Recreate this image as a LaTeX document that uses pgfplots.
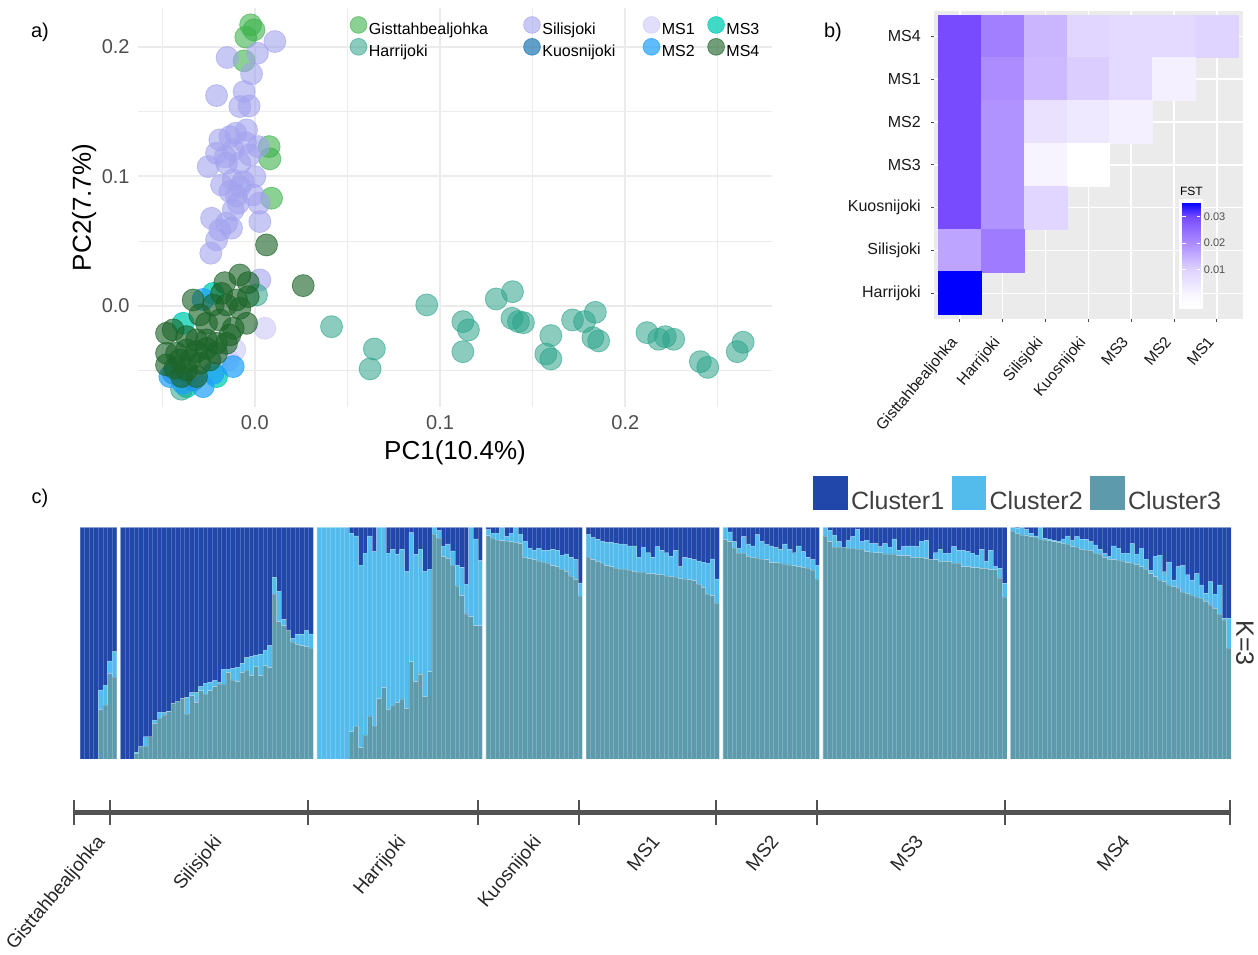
\documentclass[border=0pt]{standalone}
\usepackage{fontspec}
\setmainfont{Liberation Sans}
\usepackage{pgfplots}
\usepackage{pgfplotstable}
\pgfplotsset{compat=1.18}

\definecolor{gisC}{RGB}{60,178,75}
\definecolor{harC}{RGB}{43,163,138}
\definecolor{silC}{RGB}{163,163,238}
\definecolor{kuoC}{RGB}{31,120,180}
\definecolor{msaC}{RGB}{205,200,247}
\definecolor{msbC}{RGB}{30,160,250}
\definecolor{mscC}{RGB}{0,205,180}
\definecolor{msdC}{RGB}{27,100,40}
\definecolor{clA}{RGB}{33,71,170}
\definecolor{clB}{RGB}{83,188,236}
\definecolor{clC}{RGB}{93,154,171}
\definecolor{txtgrey}{RGB}{77,77,77}
\definecolor{gridgrey}{RGB}{235,235,235}

% ---------------- panel a data ----------------
\pgfplotstableread{
x y
-0.0023 0.2170
-0.0005 0.2131
-0.0049 0.2075
-0.0058 0.1892
0.0077 0.1230
0.0081 0.1135
0.0090 0.0832
}\gisdata
\pgfplotstableread{
x y
0.0108 0.2041
-0.0150 0.1918
0.0014 0.1951
-0.0018 0.1792
-0.0207 0.1624
-0.0058 0.1655
-0.0081 0.1539
-0.0031 0.1544
-0.0045 0.1359
-0.0103 0.1333
-0.0189 0.1282
-0.0135 0.1307
0.0018 0.1230
-0.0207 0.1179
-0.0117 0.1205
-0.0027 0.1166
-0.0252 0.1076
-0.0153 0.1102
-0.0081 0.1102
0.0000 0.0998
-0.0117 0.0973
-0.0180 0.0934
-0.0081 0.0921
-0.0135 0.0883
-0.0009 0.0857
0.0023 0.0793
-0.0090 0.0793
-0.0117 0.0741
-0.0234 0.0677
-0.0153 0.0639
-0.0189 0.0587
0.0027 0.0651
-0.0207 0.0510
-0.0238 0.0407
-0.0126 0.0600
0.0027 0.0201
-0.0063 0.0960
-0.0100 0.0850
-0.0160 0.1150
-0.0050 0.1260
}\sildata
\pgfplotstableread{
x y
0.0054 -0.0172
-0.0108 -0.0339
-0.0144 -0.0417
-0.0207 -0.0468
}\msadata
\pgfplotstableread{
x y
-0.0225 0.0097
-0.0387 -0.0134
-0.0207 -0.0545
-0.0369 -0.0623
}\mscdata
\pgfplotstableread{
x y
0.0928 0.0008
0.1123 -0.0121
0.1153 -0.0185
0.1123 -0.0353
0.1303 0.0054
0.1391 0.0110
0.1388 -0.0095
0.1423 -0.0121
0.1450 -0.0129
0.1598 -0.0229
0.1571 -0.0371
0.1598 -0.0409
0.1715 -0.0108
0.1780 -0.0121
0.1838 -0.0049
0.1825 -0.0245
0.1856 -0.0270
0.2117 -0.0206
0.2180 -0.0257
0.2216 -0.0237
0.2261 -0.0257
0.2405 -0.0430
0.2445 -0.0474
0.2604 -0.0353
0.2636 -0.0280
0.0414 -0.0160
0.0645 -0.0332
0.0622 -0.0486
-0.0396 -0.0643
0.0009 0.0085
}\hardata
\pgfplotstableread{
x y
-0.0441 -0.0519
-0.0333 -0.0570
}\kuodata
\pgfplotstableread{
x y
-0.0459 -0.0545
-0.0279 -0.0623
-0.0117 -0.0468
-0.0225 -0.0519
-0.0387 -0.0597
-0.0280 0.0050
}\msbdata
\pgfplotstableread{
x y
-0.0081 0.0239
-0.0036 0.0180
-0.0162 0.0180
-0.0333 0.0046
-0.0099 0.0046
-0.0180 0.0097
-0.0036 0.0072
-0.0297 -0.0069
-0.0225 0.0008
-0.0153 0.0008
-0.0081 -0.0018
-0.0045 -0.0134
-0.0117 -0.0172
-0.0261 -0.0134
-0.0189 -0.0108
-0.0441 -0.0185
-0.0477 -0.0211
-0.0369 -0.0237
-0.0315 -0.0262
-0.0261 -0.0262
-0.0207 -0.0288
-0.0153 -0.0288
-0.0135 -0.0224
-0.0477 -0.0365
-0.0423 -0.0365
-0.0369 -0.0339
-0.0315 -0.0352
-0.0261 -0.0327
-0.0207 -0.0365
-0.0405 -0.0417
-0.0351 -0.0417
-0.0477 -0.0455
-0.0432 -0.0481
-0.0369 -0.0494
-0.0315 -0.0545
-0.0396 -0.0545
-0.0297 -0.0443
-0.0243 -0.0417
0.0063 0.0471
0.0261 0.0157
}\msddata

% ---------------- panel b data ----------------
\pgfplotstableread{
x y v
1 7 0.0300
2 7 0.0220
3 7 0.0140
4 7 0.0090
5 7 0.0080
6 7 0.0080
7 7 0.0095
1 6 0.0300
2 6 0.0200
3 6 0.0135
4 6 0.0105
5 6 0.0080
6 6 0.0020
1 5 0.0300
2 5 0.0190
3 5 0.0060
4 5 0.0040
5 5 0.0020
1 4 0.0300
2 4 0.0190
3 4 0.0010
4 4 -0.0048
1 3 0.0300
2 3 0.0190
3 3 0.0090
1 2 0.0165
2 2 0.0225
1 1 0.0355
}\fstdata

% ---------------- panel c data ----------------
\pgfplotstableread{
g c3 t
0 0 0
0 0 0
0 0 0
0 0 0
0 0.214 0.298
0 0.232 0.319
0 0.370 0.423
0 0.353 0.463
1 0 0
1 0 0
1 0 0
1 0.024 0.030
1 0.053 0.053
1 0.056 0.096
1 0.096 0.096
1 0.154 0.168
1 0.176 0.200
1 0.190 0.200
1 0.204 0.207
1 0.240 0.240
1 0.250 0.250
1 0.262 0.262
1 0.194 0.266
1 0.273 0.286
1 0.243 0.286
1 0.295 0.312
1 0.280 0.327
1 0.295 0.331
1 0.312 0.338
1 0.324 0.330
1 0.324 0.388
1 0.373 0.388
1 0.341 0.391
1 0.334 0.396
1 0.373 0.413
1 0.384 0.437
1 0.360 0.442
1 0.400 0.449
1 0.360 0.452
1 0.403 0.470
1 0.394 0.489
1 0.712 0.784
1 0.593 0.722
1 0.576 0.603
1 0.557 0.557
1 0.505 0.520
1 0.495 0.538
1 0.489 0.538
1 0.485 0.554
1 0.478 0.540
2 0 1
2 0 1
2 0 1
2 0 1
2 0 1
2 0 1
2 0 1
2 0.118 0.974
2 0.142 0.963
2 0.049 0.837
2 0.104 0.888
2 0.186 0.963
2 0.142 0.895
2 0.260 1
2 0.308 1
2 0.214 0.888
2 0.233 0.905
2 0.243 0.883
2 0.259 0.905
2 0.217 0.809
2 0.420 0.977
2 0.334 0.883
2 0.365 0.906
2 0.269 0.809
2 0.377 0.819
2 0.971 1
2 0.953 0.986
2 0.873 0.919
2 0.866 0.928
2 0.837 0.898
2 0.747 0.837
2 0.705 0.827
2 0.626 0.755
2 0.614 1
2 0.576 0.950
2 0.576 0.856
3 0.964 0.990
3 0.953 0.975
3 0.945 0.975
3 0.942 1
3 0.940 0.960
3 0.938 0.975
3 0.935 1
3 0.930 0.970
3 0.870 0.940
3 0.865 0.910
3 0.860 0.900
3 0.855 0.910
3 0.850 0.900
3 0.845 0.900
3 0.835 0.905
3 0.830 0.900
3 0.820 0.880
3 0.810 0.885
3 0.790 0.870
3 0.775 0.860
3 0.704 0.760
4 0.871 0.970
4 0.860 0.955
4 0.853 0.948
4 0.845 0.940
4 0.835 0.935
4 0.830 0.935
4 0.825 0.930
4 0.820 0.928
4 0.820 0.925
4 0.815 0.920
4 0.810 0.920
4 0.806 0.871
4 0.806 0.914
4 0.800 0.890
4 0.800 0.870
4 0.797 0.917
4 0.795 0.900
4 0.790 0.890
4 0.788 0.875
4 0.785 0.900
4 0.780 0.830
4 0.777 0.870
4 0.774 0.866
4 0.770 0.860
4 0.755 0.855
4 0.741 0.850
4 0.712 0.845
4 0.705 0.864
4 0.674 0.777
5 0.948 1
5 0.938 0.980
5 0.910 0.938
5 0.888 0.910
5 0.888 0.960
5 0.875 0.928
5 0.870 0.920
5 0.868 0.968
5 0.863 0.938
5 0.860 0.925
5 0.848 0.920
5 0.848 0.912
5 0.845 0.905
5 0.842 0.928
5 0.838 0.905
5 0.835 0.890
5 0.830 0.920
5 0.827 0.895
5 0.825 0.870
5 0.815 0.860
5 0.777 0.835
6 0.963 1
6 0.938 0.988
6 0.914 0.966
6 0.914 0.938
6 0.914 0.914
6 0.910 0.942
6 0.910 0.960
6 0.906 0.991
6 0.906 0.938
6 0.895 0.945
6 0.893 0.930
6 0.890 0.930
6 0.890 0.917
6 0.885 0.930
6 0.885 0.914
6 0.885 0.950
6 0.878 0.900
6 0.878 0.917
6 0.878 0.920
6 0.870 0.920
6 0.870 0.917
6 0.870 0.940
6 0.865 0.944
6 0.860 0.860
6 0.860 0.890
6 0.853 0.905
6 0.853 0.888
6 0.853 0.888
6 0.845 0.917
6 0.845 0.900
6 0.830 0.900
6 0.830 0.895
6 0.826 0.888
6 0.826 0.880
6 0.823 0.905
6 0.823 0.853
6 0.817 0.900
6 0.817 0.830
6 0.782 0.823
6 0.700 0.758
7 0.984 1
7 0.974 0.995
7 0.967 1
7 0.965 0.990
7 0.960 0.975
7 0.958 0.963
7 0.950 1
7 0.945 0.952
7 0.942 0.950
7 0.938 0.945
7 0.935 0.940
7 0.931 0.950
7 0.928 0.963
7 0.917 0.945
7 0.915 0.960
7 0.905 0.948
7 0.902 0.948
7 0.900 0.938
7 0.888 0.924
7 0.885 0.905
7 0.870 0.886
7 0.862 0.873
7 0.860 0.920
7 0.858 0.910
7 0.855 0.888
7 0.848 0.888
7 0.845 0.929
7 0.840 0.884
7 0.830 0.910
7 0.820 0.863
7 0.800 0.815
7 0.787 0.876
7 0.773 0.880
7 0.765 0.808
7 0.751 0.851
7 0.745 0.773
7 0.737 0.830
7 0.720 0.835
7 0.715 0.795
7 0.708 0.773
7 0.700 0.800
7 0.694 0.751
7 0.680 0.715
7 0.665 0.765
7 0.650 0.712
7 0.625 0.751
7 0.600 0.607
7 0.478 0.607
}\admix

\begin{document}
\begin{tikzpicture}
\path[use as bounding box] (0,0) rectangle (629pt,477pt);

% ================= panel a =================
\begin{axis}[
  at={(69pt,273.5pt)}, anchor=south west, scale only axis,
  width=317pt, height=199.5pt,
  xmin=-0.0631, xmax=0.2792, ymin=-0.078, ymax=0.230,
  axis line style={draw=none}, tick style={draw=none},
  xtick={0,0.1,0.2}, xticklabels={0.0,0.1,0.2},
  ytick={0,0.1,0.2}, yticklabels={0.0,0.1,0.2},
  minor xtick={-0.05,0.05,0.15,0.25}, minor ytick={-0.05,0.05,0.15},
  grid=both,
  major grid style={gridgrey, line width=1pt},
  minor grid style={gridgrey, line width=0.5pt},
  xticklabel style={font=\fontsize{10}{12}\selectfont, text=txtgrey, inner sep=0pt, anchor=north, yshift=-4pt},
  yticklabel style={font=\fontsize{10}{12}\selectfont, text=txtgrey, inner sep=0pt, anchor=east, xshift=-4pt},
  xlabel={PC1(10.4\%)}, ylabel={PC2(7.7\%)},
  xlabel style={font=\fontsize{13}{15}\selectfont, at={(axis description cs:0.5,-0.0827)}, anchor=north, inner sep=0pt},
  ylabel style={font=\fontsize{13}{15}\selectfont, at={(axis description cs:-0.0653,0.5)}, anchor=south, inner sep=0pt},
  legend columns=4, legend cell align=left,
  legend style={draw=none, fill=none, at={(axis description cs:0.3339,0.9796)}, anchor=north west,
    font=\fontsize{8}{9.6}\selectfont, inner sep=0pt, nodes={inner xsep=1pt, inner ysep=0pt}, row sep=0.3pt,
    /tikz/every even column/.append style={column sep=4pt}},
  legend image code/.code={\draw[#1, mark size=4.2pt] plot coordinates {(4.2pt,2.8pt)};},
  clip=false,
]
\addplot[only marks, mark=*, mark size=5.5pt, mark options={fill=gisC, draw=gisC, fill opacity=0.6, draw opacity=0.6}] table[x=x,y=y] \gisdata;
\addlegendentry{\makebox[72.35pt][l]{Gisttahbealjohka}}
\addplot[only marks, mark=*, mark size=5.5pt, mark options={fill=silC, draw=silC, fill opacity=0.6, draw opacity=0.6}] table[x=x,y=y] \sildata;
\addlegendentry{\makebox[45.35pt][l]{Silisjoki}}
\addplot[only marks, mark=*, mark size=5.5pt, mark options={fill=msaC, draw=msaC, fill opacity=0.6, draw opacity=0.6}] table[x=x,y=y] \msadata;
\addlegendentry{\makebox[17.9pt][l]{MS1}}
\addplot[only marks, mark=*, mark size=5.5pt, mark options={fill=mscC, draw=mscC, fill opacity=0.75, draw opacity=0.75}] table[x=x,y=y] \mscdata;
\addlegendentry{MS3}
\addplot[only marks, mark=*, mark size=5.5pt, mark options={fill=harC, draw=harC, fill opacity=0.55, draw opacity=0.6}] table[x=x,y=y] \hardata;
\addlegendentry{\makebox[72.35pt][l]{Harrijoki}}
\addplot[only marks, mark=*, mark size=5.5pt, mark options={fill=kuoC, draw=kuoC, fill opacity=0.7, draw opacity=0.7}] table[x=x,y=y] \kuodata;
\addlegendentry{\makebox[45.35pt][l]{Kuosnijoki}}
\addplot[only marks, mark=*, mark size=5.5pt, mark options={fill=msbC, draw=msbC, fill opacity=0.7, draw opacity=0.7}] table[x=x,y=y] \msbdata;
\addlegendentry{\makebox[17.9pt][l]{MS2}}
\addplot[only marks, mark=*, mark size=5.5pt, mark options={fill=msdC, draw=msdC, fill opacity=0.62, draw opacity=0.65}] table[x=x,y=y] \msddata;
\addlegendentry{MS4}
\end{axis}

% ================= panel b =================
\begin{axis}[
  name=pb,
  at={(467pt,317.5pt)}, anchor=south west, scale only axis,
  width=154.35pt, height=154.15pt,
  xmin=0.4, xmax=7.6, ymin=0.4, ymax=7.6,
  axis background/.style={fill=gridgrey},
  axis line style={draw=none},
  xtick={1,2,3,4,5,6,7}, ytick={1,2,3,4,5,6,7},
  xticklabels={Gisttahbealjohka,Harrijoki,Silisjoki,Kuosnijoki,MS3,MS2,MS1},
  yticklabels={Harrijoki,Silisjoki,Kuosnijoki,MS3,MS2,MS1,MS4},
  grid=major, major grid style={white, line width=0.8pt},
  tick align=outside, major tick length=1.4pt, tick style={black!70, line width=0.5pt},
  xtick pos=bottom, ytick pos=left,
  xticklabel style={xshift=-5.3pt, yshift=-6.5pt, rotate=50, anchor=north east, font=\fontsize{7.8}{9.4}\selectfont, text=black!90, inner sep=0pt},
  yticklabel style={anchor=east, font=\fontsize{8}{9.6}\selectfont, text=black!90, inner sep=0pt, xshift=-5pt},
  colormap={fstmap}{rgb255(0pt)=(255,255,255); rgb255(4.8pt)=(250,248,255); rgb255(14.8pt)=(222,210,255); rgb255(24.8pt)=(172,140,255); rgb255(34.8pt)=(120,75,255); rgb255(40.3pt)=(0,0,255)},
  point meta min=-0.0048, point meta max=0.0355,
  colorbar,
  colorbar style={
    at={(parent axis.south west)}, anchor=south west, xshift=115.7pt, yshift=5.35pt,
    scale only axis, width=9pt, height=53pt,
    scaled y ticks=false,
    ytick={0.01,0.02,0.03}, yticklabels={0.01,0.02,0.03},
    yticklabel pos=right, ytick pos=both,
    yticklabel style={font=\fontsize{5.5}{6}\selectfont, text=txtgrey, inner sep=0pt, xshift=1.5pt},
    axis line style={draw=none},
    tick align=inside, major tick length=1.8pt, tick style={white, line width=0.4pt},
    title={FST}, title style={font=\fontsize{6}{7}\selectfont, inner sep=0pt, at={(0.5,1)}, anchor=south, yshift=-2.9pt},
  },
]
\fill[white] (axis cs:6.121,0.624) rectangle (axis cs:6.681,3.194);
\addplot[scatter, only marks, mark=square*, mark size=10.72pt, scatter src=explicit,
  scatter/use mapped color={draw=mapped color, fill=mapped color}] table[x=x,y=y,meta=v] \fstdata;
\end{axis}

% ================= panel c =================
\begin{axis}[
  at={(40pt,97.5pt)}, anchor=south west, scale only axis,
  width=575.5pt, height=115.85pt,
  xmin=-0.5, xmax=249.89, ymin=0, ymax=1,
  ybar stacked, bar width=1,
  hide axis, clip=false,
  legend columns=3, reverse legend,
  legend style={draw=none, fill=none, at={(axis description cs:0.6369,1.2235)}, anchor=north west,
    font=\fontsize{12.5}{14}\selectfont, text=black!75, inner sep=0pt, nodes={inner sep=1.6pt},
    /tikz/every even column/.append style={column sep=2.3pt}},
  legend image code/.code={\fill[#1, draw=none] (0pt,-4.2pt) rectangle (17.2pt,13pt);},
]
\addplot[fill=clC, draw=white, draw opacity=0.2, line width=0.3pt] table[x expr=\coordindex+0.77*\thisrow{g}, y=c3] \admix;
\addlegendentry{Cluster3}
\addplot[fill=clB, draw=white, draw opacity=0.2, line width=0.3pt] table[x expr=\coordindex+0.77*\thisrow{g}, y expr=\thisrow{t}-\thisrow{c3}] \admix;
\addlegendentry{Cluster2}
\addplot[fill=clA, draw=white, draw opacity=0.2, line width=0.3pt] table[x expr=\coordindex+0.77*\thisrow{g}, y expr=1-\thisrow{t}] \admix;
\addlegendentry{Cluster1}
\node[rotate=-90, font=\fontsize{12.5}{14}\selectfont, text=black!80] at (rel axis cs:1.0122,0.5) {K=3};
\end{axis}

% ================= bracket axis =================
\begin{axis}[
  at={(37pt,70.75pt)}, anchor=south west, scale only axis,
  width=578pt, height=2pt,
  xmin=74, xmax=1230, ymin=0, ymax=1,
  axis x line*=bottom, hide y axis,
  xtick={74,110,308,478,579,716,817,1005,1230}, xticklabels={},
  tick align=center, major tick length=12.5pt,
  x axis line style={line width=2.6pt, color=black!68},
  xtick style={line width=1pt, color=black!68},
]
\end{axis}

\begin{scope}[every node/.style={rotate=50, anchor=north east, inner sep=0pt, font=\fontsize{9.5}{11}\selectfont, text=black!85}]
\node at (47.5pt,60.5pt) {Gisttahbealjohka};
\node at (106pt,60.5pt) {Silisjoki};
\node at (198pt,60.5pt) {Harrijoki};
\node at (265.75pt,60.5pt) {Kuosnijoki};
\node at (325.25pt,60.5pt) {MS1};
\node at (384.75pt,60.5pt) {MS2};
\node at (457pt,60.5pt) {MS3};
\node at (560.25pt,60.5pt) {MS4};
\end{scope}

\node[font=\fontsize{10}{12}\selectfont] at (20pt,461pt) {a)};
\node[font=\fontsize{10}{12}\selectfont] at (416.5pt,461pt) {b)};
\node[font=\fontsize{10}{12}\selectfont] at (20pt,228pt) {c)};
\end{tikzpicture}
\end{document}
